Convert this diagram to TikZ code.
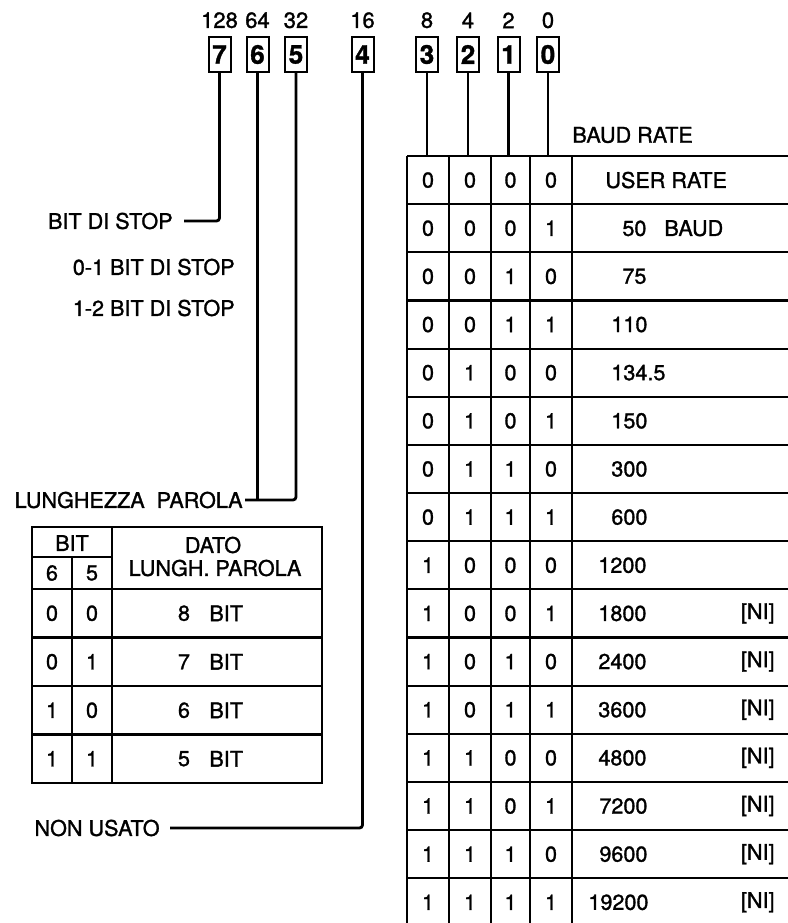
\documentclass[tikz,border=0pt]{standalone}
\usepackage{fontspec}
\setmainfont{TeX Gyre Heros}[FakeBold=1.3]
\usetikzlibrary{positioning, calc}
\tikzset{
  reg box/.style={
    rectangle, draw=black, line width=1pt,
    minimum width=11pt, minimum height=17.5pt, inner sep=0pt,
    font=\fontsize{13}{13}\selectfont\bfseries
  },
  reg weight/.style={
    font=\fontsize{11}{11}\selectfont, inner sep=0pt
  },
  reg line/.style={
    draw=black, line width=1.4pt, rounded corners=1.5pt
  },
  reg text/.style={
    font=\fontsize{10.8}{12}\selectfont, inner sep=0pt, anchor=east
  },
  tab line/.style={
    draw=black, line width=1.1pt
  },
  tab cell/.style={
    font=\fontsize{10.8}{12}\selectfont, inner sep=0pt
  }
}
\begin{document}
\begin{tikzpicture}[x=0.5pt, y=-0.5pt]
  \useasboundingbox (0,0) rectangle (788,923);

  \foreach \b/\x/\w in {7/219.5/128, 6/257.5/64, 5/296/32, 4/362.5/16,
                        3/427/8, 2/468/4, 1/508.5/2, 0/548/0} {
    \node (b\b) [reg box] at (\x,54.5) {\b};
    \node (w\b) [reg weight, above=3.7pt of b\b] {\w};
  }

  \node (stop)  [reg text] at (173,221) {BIT DI STOP};
  \node (stopa) [reg text] at (235,267) {0-1 BIT DI STOP};
  \node (stopb) [reg text] at (235,308) {1-2 BIT DI STOP};
  \node (lun)   [reg text] at (243,500) {LUNGHEZZA\ \ PAROLA};
  \node (non)   [reg text] at (160,828) {NON USATO};
  \node (baud)  [tab cell, anchor=west] at (572,135) {BAUD RATE};

  \draw [reg line] (b7.south) |- ([xshift=5.5pt]stop.east);
  \draw [reg line] (b5.south) |- ([xshift=1pt]lun.east);
  \draw [reg line] (b6.south) -- (b6.south |- lun.east);
  \draw [reg line] (b4.south) |- ([xshift=5pt]non.east);

  \coordinate (rt) at (407,156);
  \foreach \b in {3,2,1,0}
    \draw [reg line] (b\b.south) -- (b\b.south |- rt);

  % baud rate table
  \foreach \x in {407,449,491,530,572}
    \draw [tab line] (\x,156) -- (\x,923);
  \foreach \r in {0,...,15}
    \draw [tab line] (407,{156+48.15*\r}) -- (788,{156+48.15*\r});
  \foreach \r in {0,...,15} {
    \pgfmathtruncatemacro{\da}{int(\r/8)}
    \pgfmathtruncatemacro{\db}{mod(int(\r/4),2)}
    \pgfmathtruncatemacro{\dc}{mod(int(\r/2),2)}
    \pgfmathtruncatemacro{\dd}{mod(\r,2)}
    \node (ra\r) [tab cell] at (428,{156+48.15*(\r+0.5)}) {\da};
    \node (rb\r) [tab cell] at (470,{156+48.15*(\r+0.5)}) {\db};
    \node (rc\r) [tab cell] at (510.5,{156+48.15*(\r+0.5)}) {\dc};
    \node (rd\r) [tab cell] at (551,{156+48.15*(\r+0.5)}) {\dd};
  }
  \foreach \r/\v/\x in {0/USER RATE/605, 1/{50\hspace{9pt}BAUD}/622, 2/75/622,
                        3/110/611, 4/134.5/611, 5/150/611, 6/300/611, 7/600/611,
                        8/1200/598, 9/1800/598, 10/2400/598, 11/3600/598,
                        12/4800/598, 13/7200/599, 14/9600/599, 15/19200/588}
    \node (rv\r) [tab cell, anchor=west] at (\x,{156+48.15*(\r+0.5)}) {\v};
  \foreach \r in {9,...,15}
    \node (ni\r) [tab cell, anchor=east] at (775,{156+48.15*(\r+0.5)}) {[NI]};

  % word length table
  \draw [tab line] (32,527) rectangle (322,783);
  \draw [tab line] (112,527) -- (112,783);
  \draw [tab line] (72,557) -- (72,783);
  \draw [tab line] (32,557) -- (112,557);
  \foreach \y in {589,637.5,686,734.5}
    \draw [tab line] (32,\y) -- (322,\y);
  \node (hbit)  [tab cell] at (72,543) {BIT};
  \node (h6)    [tab cell] at (52,573) {6};
  \node (h5)    [tab cell] at (92,573) {5};
  \node (hdato) [tab cell] at (213,545) {DATO};
  \node (hlun)  [tab cell] at (215,568) {LUNGH. PAROLA};
  \foreach \r/\p/\q/\n in {0/0/0/8, 1/0/1/7, 2/1/0/6, 3/1/1/5} {
    \node (la\r) [tab cell] at (52,{589+48.5*(\r+0.5)}) {\p};
    \node (lb\r) [tab cell] at (92,{589+48.5*(\r+0.5)}) {\q};
    \node (ln\r) [tab cell] at (184,{589+48.5*(\r+0.5)}) {\n};
    \node (lt\r) [tab cell, anchor=west] at (209,{589+48.5*(\r+0.5)}) {BIT};
  }
\end{tikzpicture}
\end{document}
